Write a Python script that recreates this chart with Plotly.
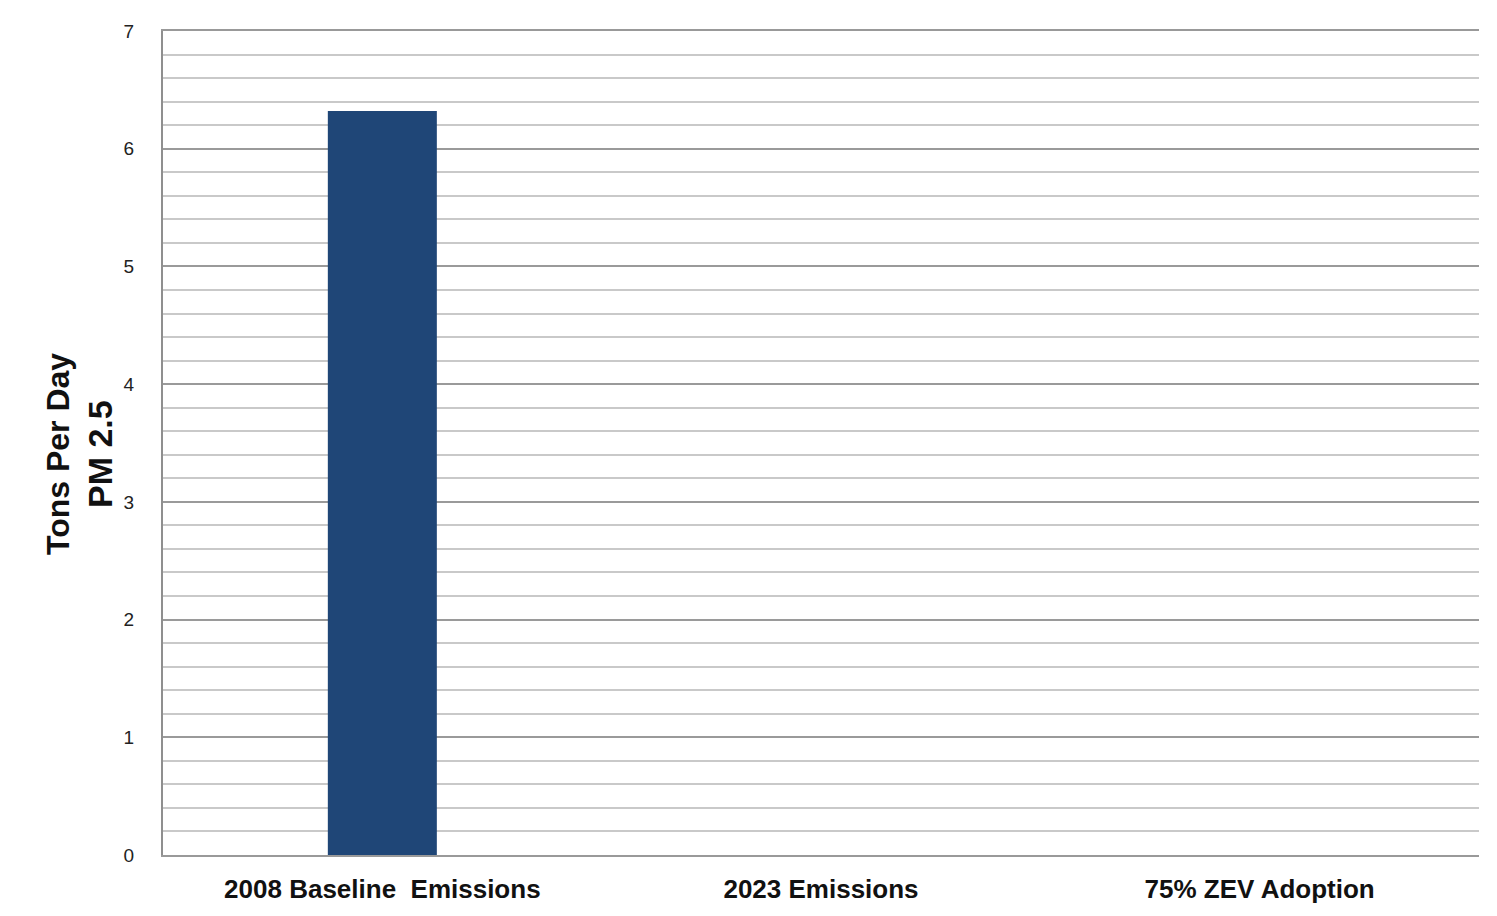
import plotly.graph_objects as go

categories = ["2008 Baseline  Emissions", "2023 Emissions", "75% ZEV Adoption"]
values = [6.32, 0, 0]
y_ticks = [0, 1, 2, 3, 4, 5, 6, 7]

W, H = 1497, 916
OFF = 8  # page body margin offset
L, R, T, B = 163 - OFF, 18 + OFF, 31 - OFF, 61 + OFF
pw = W - L - R
ph = H - T - B

FONT = "Liberation Sans, Arial, sans-serif"

fig = go.Figure()
fig.add_trace(go.Bar(
    x=categories, y=values,
    marker=dict(color="#1f4677", line=dict(width=0)),
    hoverinfo="x+y",
))

def px_x(p):
    return (p - OFF - L) / pw

def px_y(p):
    return (H + OFF - B - p) / ph

fig.add_annotation(
    text="<b>Tons Per Day</b>",
    xref="paper", yref="paper",
    x=px_x(58), y=px_y(454),
    xanchor="center", yanchor="middle",
    textangle=-90, showarrow=False,
    font=dict(family=FONT, size=32, color="#111111"),
)
fig.add_annotation(
    text="<b>PM 2.5</b>",
    xref="paper", yref="paper",
    x=px_x(100), y=px_y(454),
    xanchor="center", yanchor="middle",
    textangle=-90, showarrow=False,
    font=dict(family=FONT, size=34, color="#111111"),
)

fig.update_layout(
    width=W, height=H,
    margin=dict(l=L, r=R, t=T, b=B, pad=0),
    paper_bgcolor="white",
    plot_bgcolor="white",
    bargap=0.7515,
    showlegend=False,
    font=dict(family=FONT, color="#222222"),
)

fig.update_xaxes(
    showgrid=False,
    showline=True, linecolor="#999999", linewidth=2, mirror=True,
    ticks="", ticklabelstandoff=10,
    tickfont=dict(family=FONT, size=26, color="#111111", weight="bold"),
    range=[-0.5, 2.5],
)

fig.update_yaxes(
    range=[0, 7],
    tickvals=y_ticks,
    ticktext=[str(v) for v in y_ticks],
    showgrid=True, gridcolor="#9a9a9a", gridwidth=2,
    minor=dict(dtick=0.2, tick0=0, showgrid=True, gridcolor="#c9c9c9", gridwidth=1.5),
    showline=True, linecolor="#8f8f8f", linewidth=2,
    zeroline=False,
    ticks="", ticklabelstandoff=23,
    tickfont=dict(family=FONT, size=19, color="#222222"),
)

fig.write_html("out.html")
